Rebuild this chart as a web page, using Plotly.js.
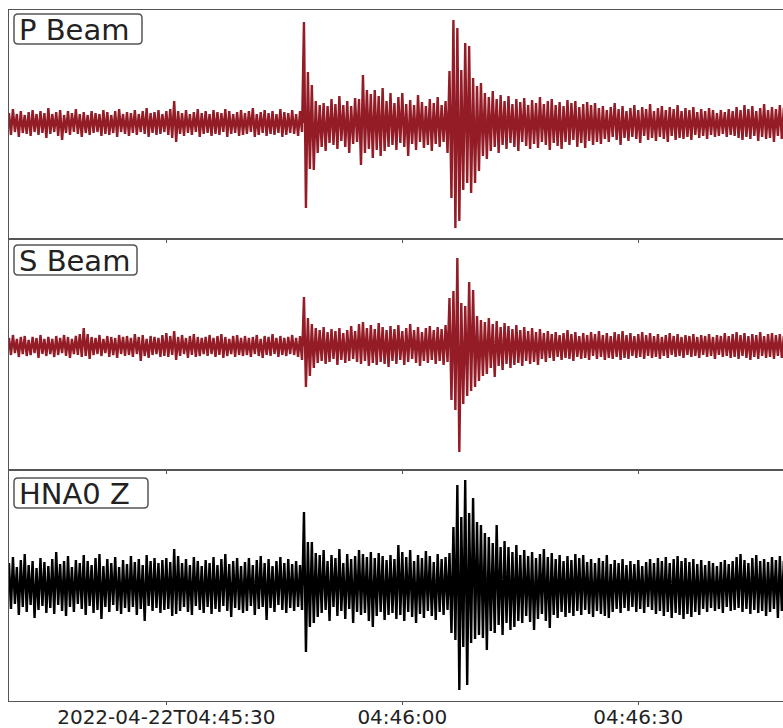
<!DOCTYPE html>
<html>
<head>
<meta charset="utf-8">
<script src="https://cdn.plot.ly/plotly-3.0.1.min.js"></script>
<style>html,body{margin:0;padding:0;background:#fff;}#chart{width:783px;height:728px;}</style>
</head>
<body>
<div id="chart"></div>
<script>
// Trace labels
const traceLabels = ["P Beam", "S Beam", "HNA0 Z"];
// Tick positions (seconds after 04:45:00) and their labels
const tickSeconds = [30, 60, 90];
const tickLabels = ["2022-04-22T04:45:30", "04:46:00", "04:46:30"];
// Samples: first sample time (s after 04:45:00) and interval between samples (s)
const sampleStart = 10;
const sampleStep = 0.25;

// P Beam: alternating positive/negative peak samples (display units)
const pBeamUp = [
10,14,9,12,8,11,13,9,12,10, 15,9,11,13,8,12,10,14,9,11,
8,12,10,9,13,11,8,12,14,9, 11,10,13,9,12,15,10,11,13,9,
12,14,22,12,10,13,9,11,14,10, 12,9,13,11,10,14,12,9,11,13,
10,12,15,9,11,13,10,12,9,14, 11,10,13,9,12,
101,51,38,22,18, 20,17,24,19,27, 18,22,17,25,24, 48,33,29,33,27, 35,22,30,20,26,
30,19,23,18,28, 21,17,24,20,26, 18,22,52,103,95, 53,80,77,45,37, 40,30,26,32,24,
28,22,27,19,24, 21,25,18,23,20, 26,19,22,24,18, 21,17,23,20,22, 16,19,21,18,20,
15,17,13,16,20, 14,17,12,15,18, 13,16,14,19,12, 15,17,13,16,14, 18,12,15,13,16,
11,14,12,15,13, 10,13,11,14,12, 16,13,18,14,17, 12,15,19,13,16, 14,18,15
];
const pBeamDown = [
-12,-9,-14,-10,-11,-13,-9,-12,-10,-15, -11,-9,-13,-17,-10,-12,-9,-11,-14,-10,
-12,-10,-9,-13,-11,-12,-10,-14,-9,-11, -13,-10,-12,-9,-11,-14,-10,-12,-11,-9,
-12,-15,-19,-11,-13,-10,-12,-9,-14,-11, -10,-13,-11,-12,-9,-14,-11,-10,-13,-12,
-11,-9,-14,-12,-10,-13,-11,-12,-10,-14, -12,-10,-11,-13,-9,
-85,-46,-47,-30,-24, -28,-20,-22,-26,-18, -24,-30,-21,-19,-42, -30,-26,-35,-27,-33, -28,-24,-22,-27,-20,
-24,-33,-21,-27,-19, -25,-22,-28,-21,-24, -19,-30,-75,-105,-98, -67,-60,-70,-60,-48, -33,-36,-28,-24,-30,
-22,-26,-20,-24,-28, -19,-23,-26,-21,-25, -19,-22,-27,-20,-23, -26,-19,-22,-17,-24, -20,-25,-18,-22,-19,
-21,-16,-19,-14,-17, -22,-15,-18,-14,-16, -20,-13,-17,-15,-18, -14,-16,-19,-13,-17, -15,-16,-14,-17,-12,
-15,-13,-16,-12,-14, -13,-11,-14,-12,-13, -15,-17,-14,-16,-13, -18,-14,-16,-15,-19, -13,-16,-14
];

// S Beam
const sBeamUp = [
8,11,7,9,10,6,9,8,11,7, 9,7,10,8,11,9,7,10,12,18,
12,9,8,11,7,10,9,8,11,9, 10,8,12,9,11,7,10,9,8,11,
13,10,15,9,11,8,10,12,9,8, 9,11,8,10,12,9,7,10,11,8,
10,8,9,11,7,10,9,12,8,10, 8,9,11,8,10,
49,28,22,18,16, 19,14,17,15,18, 13,16,20,15,22, 24,18,21,17,23, 19,16,20,17,21,
15,18,22,16,19, 14,18,20,16,19, 17,21,48,55,88, 43,40,64,56,30, 26,24,28,22,25,
19,23,20,17,21, 16,19,15,18,14, 17,13,15,12,14, 11,13,16,12,14, 10,13,11,14,12,
15,11,13,10,14, 12,15,11,13,10, 12,14,11,13,10, 12,9,11,13,10, 12,9,11,10,12,
9,11,10,12,9, 11,10,13,10,12, 14,11,13,10,12, 11,14,10,12,13, 11,12,10
];
const sBeamDown = [
-9,-7,-11,-8,-10,-9,-7,-12,-8,-10, -8,-11,-9,-7,-10,-12,-8,-9,-11,-10,
-13,-9,-8,-10,-7,-11,-9,-12,-8,-10, -9,-11,-8,-15,-10,-12,-9,-8,-11,-10,
-11,-9,-14,-10,-8,-12,-9,-11,-10,-8, -10,-8,-11,-9,-12,-10,-8,-11,-9,-10,
-9,-11,-8,-10,-12,-9,-10,-8,-11,-9, -10,-8,-9,-11,-14,
-41,-30,-22,-17,-15, -18,-16,-13,-19,-14, -17,-15,-13,-16,-18, -15,-20,-17,-19,-16, -18,-21,-15,-18,-14,
-19,-16,-13,-17,-20, -15,-17,-14,-18,-15, -19,-16,-54,-64,-106, -58,-50,-45,-41,-35, -30,-28,-22,-31,-20,
-24,-18,-22,-19,-17, -20,-15,-18,-16,-19, -13,-16,-12,-15,-11, -14,-12,-13,-15,-11, -13,-12,-14,-10,-13,
-11,-14,-12,-13,-11, -14,-12,-13,-10,-12, -11,-13,-10,-12,-11, -13,-10,-12,-9,-11, -10,-12,-9,-11,-10,
-12,-9,-11,-10,-13, -9,-11,-10,-12,-11, -13,-10,-12,-14,-11, -13,-10,-12,-11,-13, -10,-12,-10,-13,-11
];

// HNA0 Z
const hnaUp = [
22,28,18,25,31,20,24,17,27,23, 19,26,33,21,24,29,18,25,22,30,
24,20,27,31,19,26,22,28,18,25, 21,29,23,26,20,30,24,27,22,25,
27,23,36,29,22,26,20,28,24,19, 25,22,28,20,26,31,21,24,27,19,
23,27,20,25,29,22,26,19,24,28, 22,26,21,24,20,
73,43,43,32,30, 35,24,30,27,36, 22,31,26,29,35, 31,28,33,27,32, 29,25,30,26,40,
33,28,35,24,30, 27,34,29,23,31, 26,28,32,58,100, 68,105,72,87,63, 60,52,48,42,60,
38,44,38,33,40, 30,35,29,33,27, 31,36,28,32,26, 30,24,29,25,31, 27,30,23,26,22,
27,24,30,21,25, 22,26,20,24,21, 25,19,23,26,22, 27,24,28,22,26, 29,24,27,23,26,
21,25,20,24,22, 19,23,25,21,24, 28,31,25,22,27, 30,24,26,23,28, 25,29,24
];
const hnaDown = [
-24,-19,-30,-22,-27,-20,-33,-25,-21,-28, -23,-29,-20,-26,-31,-22,-27,-19,-24,-30,
-21,-28,-25,-34,-22,-27,-20,-26,-29,-23, -27,-22,-30,-24,-36,-21,-26,-23,-28,-25,
-24,-31,-29,-26,-22,-27,-30,-21,-25,-28, -22,-29,-24,-27,-21,-26,-32,-23,-25,-28,
-26,-21,-30,-24,-22,-35,-23,-27,-20,-25, -28,-23,-26,-22,-25,
-67,-42,-38,-32,-28, -25,-36,-22,-31,-26, -34,-24,-38,-27,-30, -28,-36,-42,-31,-27, -35,-30,-28,-34,-30,
-36,-27,-32,-38,-29, -33,-26,-31,-35,-27, -30,-25,-48,-55,-105, -62,-100,-58,-54,-50, -53,-65,-46,-48,-40,
-50,-38,-45,-42,-36, -38,-31,-37,-45,-34, -29,-36,-43,-30,-33, -27,-32,-28,-31,-26, -30,-25,-29,-32,-26,
-29,-31,-33,-27,-24, -28,-23,-26,-22,-27, -24,-28,-22,-25,-29, -26,-31,-27,-33,-28, -30,-34,-29,-32,-27,
-30,-24,-27,-23,-26, -24,-28,-22,-26,-25, -23,-27,-24,-29,-25, -28,-26,-31,-27,-24, -33,-26,-28
];

// Build sample series from peak arrays (one peak per sample time)
function series(up, down) {
  const x = [], y = [];
  for (let i = 0; i < up.length; i++) {
    x.push(sampleStart + 2 * i * sampleStep); y.push(up[i]);
    x.push(sampleStart + (2 * i + 1) * sampleStep); y.push(down[i]);
  }
  return {x, y};
}

const red = '#931c26';
const s1 = series(pBeamUp, pBeamDown);
const s2 = series(sBeamUp, sBeamDown);
const s3 = series(hnaUp, hnaDown);

const lineW = 2.4;
function tr(s, xa, ya, color) {
  return {x: s.x, y: s.y, xaxis: xa, yaxis: ya, type: 'scatter', mode: 'lines',
    line: {color: color, width: lineW, shape: 'linear'}, fill: 'tozeroy', fillcolor: color, hoverinfo: 'skip'};
}
const data = [
  tr(s1, 'x', 'y', red),
  tr(s2, 'x2', 'y2', red),
  tr(s3, 'x3', 'y3', '#000000')
];

const xRange = [10, 108.4];
const axLine = '#555555';
function xa(anchor, labels) {
  return {
    anchor: anchor, range: xRange, showgrid: false, zeroline: false,
    showline: true, mirror: true, linecolor: axLine, linewidth: 1,
    tickmode: 'array', tickvals: tickSeconds, ticktext: tickLabels,
    ticks: 'outside', ticklen: 3, tickcolor: axLine,
    showticklabels: labels, ticklabelstandoff: -5,
    tickfont: {family: 'DejaVu Sans', size: 20, color: '#222'}
  };
}
function ya(domain, range) {
  return {
    domain: domain, range: range, showgrid: false, zeroline: false,
    showline: true, mirror: false, linecolor: axLine, linewidth: 1,
    showticklabels: false, ticks: ''
  };
}

// Figure geometry in page pixels
const W = 783, H = 728, mL = 9, mR = 0, mT = 10, mB = 27;
const plotW = W - mL - mR, plotH = H - mT - mB;
const d1 = [0.6686, 1], d2 = [0.3343, 0.6686], d3 = [0, 0.3343];
const px2x = p => (p - mL) / plotW;
const py2y = p => (H - mB - p) / plotH;

// Label boxes: left, top offset from panel top, width, height (px)
const boxW = [128, 123, 134], boxH = 30, boxLeft = 14, boxTopOff = [4, 6, 8], rad = 4;
const panelTops = [d1[1], d2[1], d3[1]];
const labelFont = {family: 'DejaVu Sans', size: 29, color: '#222'};

const shapes = [], annotations = [];
panelTops.forEach((topFrac, k) => {
  const topPx = H - mB - topFrac * plotH + boxTopOff[k];
  const l = boxLeft, r = boxLeft + boxW[k], t = topPx, b = topPx + boxH;
  const X = px2x, Y = py2y;
  const path = `M ${X(l + rad)} ${Y(t)} L ${X(r - rad)} ${Y(t)} Q ${X(r)} ${Y(t)} ${X(r)} ${Y(t + rad)} ` +
    `L ${X(r)} ${Y(b - rad)} Q ${X(r)} ${Y(b)} ${X(r - rad)} ${Y(b)} L ${X(l + rad)} ${Y(b)} ` +
    `Q ${X(l)} ${Y(b)} ${X(l)} ${Y(b - rad)} L ${X(l)} ${Y(t + rad)} Q ${X(l)} ${Y(t)} ${X(l + rad)} ${Y(t)} Z`;
  shapes.push({type: 'path', xref: 'paper', yref: 'paper', path: path,
    line: {color: '#555', width: 1.5}, fillcolor: '#fff', layer: 'above'});
  annotations.push({text: traceLabels[k], xref: 'paper', yref: 'paper',
    x: X(l + 3), y: Y((t + b) / 2 + 1), xanchor: 'left', yanchor: 'middle',
    showarrow: false, font: labelFont});
});

const layout = {
  width: W, height: H,
  margin: {l: mL, r: mR, t: mT, b: mB},
  paper_bgcolor: '#fff', plot_bgcolor: '#fff',
  showlegend: false,
  xaxis: xa('y', false),
  xaxis2: xa('y2', false),
  xaxis3: xa('y3', true),
  yaxis: ya(d1, [-116, 113]),
  yaxis2: ya(d2, [-124, 107]),
  yaxis3: ya(d3, [-116, 115]),
  shapes: shapes,
  annotations: annotations
};

Plotly.newPlot('chart', data, layout, {staticPlot: true, displayModeBar: false});
</script>
</body>
</html>
